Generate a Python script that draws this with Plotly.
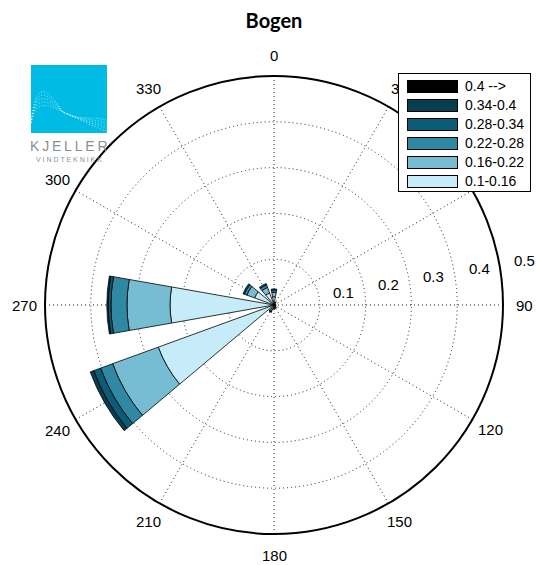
import math
import plotly.graph_objects as go

# Wind rose for Bogen: frequency per direction sector, stacked by speed class
directions = [0, 30, 60, 90, 120, 150, 180, 210, 240, 270, 300, 330]
sector_width = 20

speed_bins = ["0.1-0.16", "0.16-0.22", "0.22-0.28", "0.28-0.34", "0.34-0.4", "0.4 -->"]
bin_colors = ["#c5ecf8", "#76bcd2", "#2f89a2", "#0b5d77", "#093d50", "#000000"]

freq_01_016 = [0.018, 0.004, 0.003, 0.003, 0.004, 0.005, 0.006, 0.010, 0.269, 0.227, 0.045, 0.028]
freq_016_022 = [0.010, 0.002, 0.001, 0.001, 0.001, 0.002, 0.002, 0.004, 0.106, 0.094, 0.018, 0.013]
freq_022_028 = [0.005, 0.001, 0.000, 0.000, 0.000, 0.001, 0.001, 0.002, 0.028, 0.035, 0.006, 0.006]
freq_028_034 = [0.002, 0.000, 0.000, 0.000, 0.000, 0.000, 0.000, 0.001, 0.016, 0.006, 0.003, 0.003]
freq_034_04 = [0.000, 0.000, 0.000, 0.000, 0.000, 0.000, 0.000, 0.000, 0.008, 0.003, 0.000, 0.000]
freq_04_up = [0.000, 0.000, 0.000, 0.000, 0.000, 0.000, 0.000, 0.000, 0.000, 0.000, 0.000, 0.000]
bin_freqs = [freq_01_016, freq_016_022, freq_022_028, freq_028_034, freq_034_04, freq_04_up]

radial_ticks = [0.1, 0.2, 0.3, 0.4, 0.5]
r_max = 0.5
# the 60 degree label lies wholly behind the speed-class key, so it is left empty
angle_labels = ["" if d == 60 else str(d) for d in directions]

W, H = 537, 565
CX, CY, RADIUS = 274, 305, 229


def px(x):
    return x / W


def py(y):
    return 1 - y / H


def polar_paper(r, compass_deg, extra_px=0.0):
    """Paper position of a point given in wind-rose coordinates."""
    rp = r / r_max * RADIUS + extra_px
    a = math.radians(compass_deg)
    return px(CX + rp * math.sin(a)), py(CY - rp * math.cos(a))


fig = go.Figure()

for name, color, freqs in zip(speed_bins, bin_colors, bin_freqs):
    fig.add_trace(go.Barpolar(
        r=freqs, theta=directions, width=[sector_width] * len(directions),
        name=name, marker=dict(color=color, line=dict(color="black", width=0.8)),
        showlegend=False, hoverinfo="skip",
    ))

grid_color = "#222222"
grid_dash = "1px,3px"
fig.update_layout(
    width=W, height=H,
    margin=dict(l=0, r=0, t=0, b=0),
    paper_bgcolor="white",
    title=dict(text="<b>Bogen</b>", x=px(CX), y=py(21), xanchor="center", yanchor="middle",
               font=dict(family="Lato, Open Sans", size=20, color="black")),
    polar=dict(
        domain=dict(x=[px(CX - RADIUS), px(CX + RADIUS)], y=[py(CY + RADIUS), py(CY - RADIUS)]),
        bgcolor="white",
        barmode="stack",
        radialaxis=dict(range=[0, r_max], tickvals=radial_ticks, showticklabels=False,
                        showline=False, ticks="", gridcolor=grid_color, griddash=grid_dash,
                        gridwidth=1),
        angularaxis=dict(rotation=90, direction="clockwise", tickmode="array",
                         tickvals=directions, showticklabels=False, ticks="",
                         showline=True, linecolor="black", linewidth=2,
                         gridcolor=grid_color, griddash=grid_dash, gridwidth=1),
    ),
)

shapes = []
annotations = []
label_font = dict(family="Liberation Sans, Arial", size=15, color="black")

# compass labels centred on a ring just outside the plot edge
for d, lab in zip(directions, angle_labels):
    if not lab:
        continue
    x, y = polar_paper(r_max, d, extra_px=21)
    annotations.append(dict(text=lab, xref="paper", yref="paper", x=x, y=y,
                            xanchor="center", yanchor="middle", showarrow=False, font=label_font))

# radial scale labels, set just outside each ring a little north of east
for t in radial_ticks:
    x, y = polar_paper(t, 80, extra_px=25)
    annotations.append(dict(text=f"{t:g}", xref="paper", yref="paper", x=x, y=y,
                            xanchor="center", yanchor="middle", showarrow=False, font=label_font))

# speed class key, drawn as boxed annotations so it covers the labels beneath it
box_l, box_r, box_t, box_b = 398, 531, 73, 192
annotations.append(dict(text=" ", xref="paper", yref="paper",
                        x=px((box_l + box_r) / 2), y=py((box_t + box_b) / 2),
                        xanchor="center", yanchor="middle", showarrow=False,
                        width=box_r - box_l - 2, height=box_b - box_t - 2, borderpad=0,
                        bgcolor="white", bordercolor="black", borderwidth=1))
row_top, row_step, row_h = 80, 19, 12.5
sw_l, sw_r = 407, 458
for i, (name, color) in enumerate(zip(reversed(speed_bins), reversed(bin_colors))):
    y0 = row_top + i * row_step
    annotations.append(dict(text=" ", xref="paper", yref="paper",
                            x=px((sw_l + sw_r) / 2), y=py(y0 + row_h / 2),
                            xanchor="center", yanchor="middle", showarrow=False,
                            width=sw_r - sw_l - 2, height=row_h - 2, borderpad=0,
                            bgcolor=color, bordercolor="black", borderwidth=1,
                            font=dict(size=6)))
    annotations.append(dict(text=name, xref="paper", yref="paper", x=px(463), y=py(y0 + row_h / 2),
                            xanchor="left", yanchor="middle", showarrow=False,
                            font=dict(family="Liberation Sans, Arial", size=14, color="black")))

# company logo: cyan tile with weibull-style curves
lg_l, lg_r, lg_t, lg_b = 31, 107, 65, 133
shapes.append(dict(type="rect", xref="paper", yref="paper", x0=px(lg_l), x1=px(lg_r),
                   y0=py(lg_b), y1=py(lg_t), fillcolor="#00bce4", line=dict(width=0), layer="above"))


def lp(u, v):
    return f"{px(lg_l + u * (lg_r - lg_l)):.5f},{py(lg_b - v * (lg_b - lg_t)):.5f}"


curve_peaks = [0.40, 0.46, 0.52, 0.58, 0.64]
curve_tails = [0.19, 0.15, 0.11, 0.07, 0.03]
for pk, tl in zip(curve_peaks, curve_tails):
    path = (f"M{lp(0.0, 0.15)} C{lp(0.07, pk * 1.25)} {lp(0.2, pk * 1.05)} {lp(0.42, 0.31)} "
            f"C{lp(0.6, 0.24 - tl * 0.3)} {lp(0.8, tl + 0.06)} {lp(1.0, tl)}")
    shapes.append(dict(type="path", xref="paper", yref="paper", path=path,
                       line=dict(color="rgba(255,255,255,0.85)", width=0.7, dash="1px,2px"),
                       layer="above"))

annotations.append(dict(text="K\u2009J\u2009E\u2009L\u2009L\u2009E\u2009R", xref="paper", yref="paper",
                        x=px((lg_l + lg_r) / 2), y=py(146), xanchor="center", yanchor="middle",
                        showarrow=False,
                        font=dict(family="Liberation Sans, Arial", size=14, color="#8a8f94")))
annotations.append(dict(text="V I N D T E K N I K K", xref="paper", yref="paper",
                        x=px((lg_l + lg_r) / 2), y=py(159), xanchor="center", yanchor="middle",
                        showarrow=False,
                        font=dict(family="Liberation Sans, Arial", size=7, color="#8a8f94")))

fig.update_layout(shapes=shapes, annotations=annotations)

fig.write_html("out.html")
